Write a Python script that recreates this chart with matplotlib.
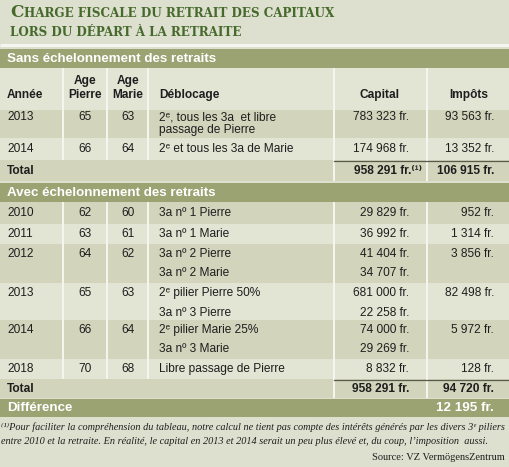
import matplotlib
matplotlib.use("Agg")
import matplotlib.pyplot as plt
from matplotlib.patches import Rectangle

# ---------------- data ----------------
title_line1_cap = "C"
title_line1_rest = "HARGE FISCALE DU RETRAIT DES CAPITAUX"
title_line2 = "LORS DU DÉPART À LA RETRAITE"

section1_title = "Sans échelonnement des retraits"
section2_title = "Avec échelonnement des retraits"

col_headers = ["Année", "Age\nPierre", "Age\nMarie", "Déblocage", "Capital", "Impôts"]

s1_years = ["2013", "2014"]
s1_age_pierre = ["65", "66"]
s1_age_marie = ["63", "64"]
s1_deblocage = [["2ᵉ, tous les 3a  et libre", "passage de Pierre"], ["2ᵉ et tous les 3a de Marie"]]
s1_capital = ["783 323 fr.", "174 968 fr."]
s1_impots = ["93 563 fr.", "13 352 fr."]
s1_total_capital = "958 291 fr.⁽¹⁾"
s1_total_impots = "106 915 fr."

s2_years = ["2010", "2011", "2012", "2013", "2014", "2018"]
s2_age_pierre = ["62", "63", "64", "65", "66", "70"]
s2_age_marie = ["60", "61", "62", "63", "64", "68"]
s2_deblocage = [["3a nº 1 Pierre"], ["3a nº 1 Marie"], ["3a nº 2 Pierre", "3a nº 2 Marie"],
                ["2ᵉ pilier Pierre 50%", "3a nº 3 Pierre"], ["2ᵉ pilier Marie 25%", "3a nº 3 Marie"],
                ["Libre passage de Pierre"]]
s2_capital = [["29 829 fr."], ["36 992 fr."], ["41 404 fr.", "34 707 fr."],
              ["681 000 fr.", "22 258 fr."], ["74 000 fr.", "29 269 fr."], ["8 832 fr."]]
s2_impots = ["952 fr.", "1 314 fr.", "3 856 fr.", "82 498 fr.", "5 972 fr.", "128 fr."]
s2_total_capital = "958 291 fr."
s2_total_impots = "94 720 fr."

diff_label = "Différence"
diff_value = "12 195 fr."

footnote1 = "⁽¹⁾Pour faciliter la compréhension du tableau, notre calcul ne tient pas compte des intérêts générés par les divers 3ᵉ piliers"
footnote2 = "entre 2010 et la retraite. En réalité, le capital en 2013 et 2014 serait un peu plus élevé et, du coup, l’imposition  aussi."
source = "Source: VZ VermögensZentrum"

# ---------------- style ----------------
BG = "#dee0cf"
BAND = "#9ca373"
DARK = "#d2d5bc"
LIGHT = "#e2e4d4"
TITLE = "#466a2c"
WHITE = "#f6f6f0"
TXT = "#1e1e1e"
SANS = ["Liberation Sans", "DejaVu Sans"]
SERIF = ["Liberation Serif", "DejaVu Serif"]
TSERIF = ["DejaVu Serif"]
FS = 8.6

W, H = 510, 467
fig = plt.figure(figsize=(W / 100, H / 100), dpi=100, facecolor=BG)
ax = fig.add_axes([0, 0, 1, 1])
ax.set_xlim(0, W)
ax.set_ylim(H, 0)
ax.axis("off")

col_lines = [63, 107.5, 148.5, 334, 427]
x_annee = 7
x_ap = 85
x_am = 128
x_deb = 159
x_cap = 409
x_imp = 494
x_cap_h = 380
x_imp_h = 469


def rect(y0, y1, color, x0=0, x1=W):
    ax.add_patch(Rectangle((x0, y0), x1 - x0, y1 - y0, facecolor=color, edgecolor="none", zorder=1))


def vlines(y0, y1, xs):
    for x in xs:
        ax.plot([x, x], [y0, y1], color=WHITE, lw=1.4, zorder=2, solid_capstyle="butt")


def t(x, y, s, ha="left", bold=False, color=TXT, size=FS, family=SANS, **kw):
    return ax.text(x, y, s, ha=ha, va="center", fontsize=size, fontweight="bold" if bold else "normal",
                   color=color, family=family, zorder=3, **kw)


# ---------------- title (small caps imitation) ----------------
fig.canvas.draw()
r = fig.canvas.get_renderer()
inv = ax.transData.inverted()


def draw_title(sc):
    tc = ax.text(10, 17.3, title_line1_cap, ha="left", va="baseline", fontsize=sc * 1.4, fontweight="bold",
                 color=TITLE, family=TSERIF, zorder=3)
    bb = tc.get_window_extent(renderer=r)
    xa = inv.transform((bb.x1, 0))[0]
    tr = ax.text(xa + 0.3, 17.3, title_line1_rest, ha="left", va="baseline", fontsize=sc, fontweight="bold",
                 color=TITLE, family=TSERIF, zorder=3)
    t2 = ax.text(10, 35.7, title_line2, ha="left", va="baseline", fontsize=sc, fontweight="bold",
                 color=TITLE, family=TSERIF, zorder=3)
    return tc, tr, t2


tc, tr, t2 = draw_title(8.0)
x_end = inv.transform((tr.get_window_extent(renderer=r).x1, 0))[0]
sc = 8.0 * (336 - 10) / (x_end - 10)
for a in (tc, tr, t2):
    a.remove()
draw_title(sc)

ax.plot([0, W], [45, 45], color=WHITE, lw=2.2, zorder=2, solid_capstyle="butt")

# ---------------- section 1 ----------------
rect(48.5, 68, BAND)
t(7, 58.5, section1_title, bold=True, color="white", size=9.6)

# header row
rect(68, 110, LIGHT)
vlines(68, 110, col_lines)
t(x_annee, 95, col_headers[0], bold=True)
t(x_ap, 88, col_headers[1], ha="center", bold=True, linespacing=1.15)
t(x_am, 88, col_headers[2], ha="center", bold=True, linespacing=1.15)
t(x_deb, 95, col_headers[3], bold=True)
t(x_cap_h, 95, col_headers[4], ha="center", bold=True)
t(x_imp_h, 95, col_headers[5], ha="center", bold=True)

s1_bounds = [(110, 138), (138, 160)]
s1_colors = [DARK, LIGHT]
for i, (y0, y1) in enumerate(s1_bounds):
    rect(y0, y1, s1_colors[i])
    vlines(y0, y1, col_lines)
    yt = y0 + 7.5 if len(s1_deblocage[i]) > 1 else (y0 + y1) / 2
    t(x_annee, yt, s1_years[i])
    t(x_ap, yt, s1_age_pierre[i], ha="center")
    t(x_am, yt, s1_age_marie[i], ha="center")
    for k, line in enumerate(s1_deblocage[i]):
        t(x_deb, yt + 13 * k, line)
    t(x_cap, yt, s1_capital[i], ha="right")
    t(x_imp, yt, s1_impots[i], ha="right")

rect(160, 180.5, DARK)
vlines(160, 180.5, col_lines[3:])
ax.plot([334, W], [160.5, 160.5], color="#5a5a4a", lw=0.9, zorder=2)
t(x_annee, 171, "Total", bold=True)
t(422, 171, s1_total_capital, ha="right", bold=True)
t(x_imp, 171, s1_total_impots, ha="right", bold=True)

# ---------------- section 2 ----------------
rect(183, 202, BAND)
t(7, 192.5, section2_title, bold=True, color="white", size=9.6)

s2_heights = [22, 20, 39, 37, 39, 20]
y = 202
for i, h in enumerate(s2_heights):
    y0, y1 = y, y + h
    rect(y0, y1, DARK if i % 2 == 0 else LIGHT)
    vlines(y0, y1, col_lines)
    yt = y0 + 10 if len(s2_deblocage[i]) > 1 else (y0 + y1) / 2
    t(x_annee, yt, s2_years[i])
    t(x_ap, yt, s2_age_pierre[i], ha="center")
    t(x_am, yt, s2_age_marie[i], ha="center")
    for k, line in enumerate(s2_deblocage[i]):
        t(x_deb, yt + 19.5 * k, line)
    for k, line in enumerate(s2_capital[i]):
        t(x_cap, yt + 19.5 * k, line, ha="right")
    t(x_imp, yt, s2_impots[i], ha="right")
    y = y1

rect(y, y + 19, DARK)
vlines(y, y + 19, col_lines[3:])
ax.plot([334, W], [y + 0.5, y + 0.5], color="#5a5a4a", lw=0.9, zorder=2)
t(x_annee, y + 9.5, "Total", bold=True)
t(x_cap, y + 9.5, s2_total_capital, ha="right", bold=True)
t(x_imp, y + 9.5, s2_total_impots, ha="right", bold=True)
y = y + 19

rect(y + 0.5, y + 18.5, BAND)
t(7, y + 10, diff_label, bold=True, color="white", size=9.6)
t(x_imp, y + 10, diff_value, ha="right", bold=True, color="white", size=9.6)

# ---------------- footnote ----------------
ax.text(1, 427, footnote1, ha="left", va="center", fontsize=7.35, style="italic", color=TXT,
        family=SERIF, zorder=3)
ax.text(1, 442, footnote2, ha="left", va="center", fontsize=7.35, style="italic", color=TXT,
        family=SERIF, zorder=3)
ax.text(505, 457, source, ha="right", va="center", fontsize=7.5, color=TXT, family=SERIF, zorder=3)

fig.savefig("out.png", dpi=100, facecolor=BG)
